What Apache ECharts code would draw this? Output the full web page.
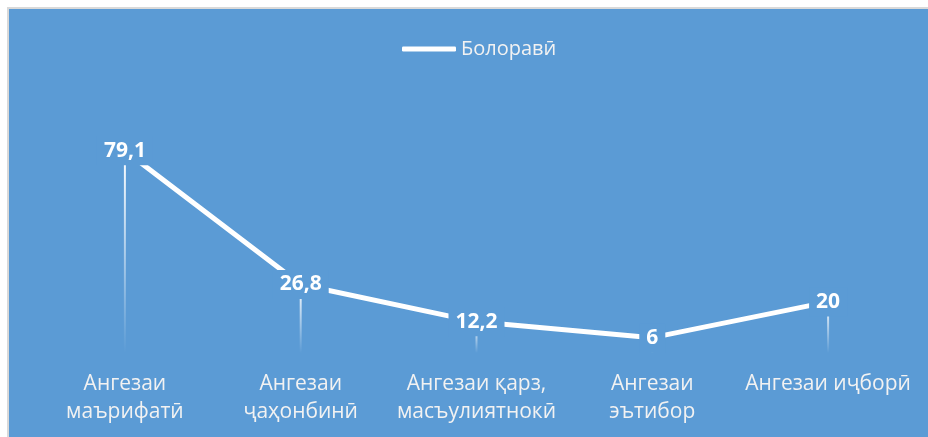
<!DOCTYPE html>
<html>
<head>
<meta charset="utf-8">
<script src="https://cdn.jsdelivr.net/npm/echarts@6/dist/echarts.min.js"></script>
<style>
html,body{margin:0;padding:0;background:#fff;width:928px;height:437px;overflow:hidden;}
#wrap{position:absolute;left:7px;top:7px;width:921px;height:430px;border-top:2px solid #d9d9d9;border-left:2px solid #d9d9d9;}
#chart{width:921px;height:430px;}
</style>
</head>
<body>
<div id="wrap"><div id="chart"></div></div>
<script>
const categories = ['Ангезаи\nмаърифатӣ', 'Ангезаи\nҷаҳонбинӣ', 'Ангезаи қарз,\nмасъулиятнокӣ', 'Ангезаи\nэътибор', 'Ангезаи иҷборӣ'];
const seriesName = 'Болоравӣ';
const values = [79.1, 26.8, 12.2, 6, 20];

const BG = '#5B9BD5';
const chart = echarts.init(document.getElementById('chart'));
chart.setOption({
  backgroundColor: BG,
  animation: false,
  legend: {
    data: [{ name: seriesName, icon: 'roundRect' }],
    left: 388, top: 25,
    itemWidth: 54, itemHeight: 5,
    textStyle: { color: '#F2F2F2', fontSize: 20, fontFamily: 'Open Sans' }
  },
  grid: { left: 28, right: 14, top: 114, bottom: 86 },
  xAxis: {
    type: 'category',
    data: categories,
    boundaryGap: true,
    axisLine: { show: false },
    axisTick: { show: false },
    axisLabel: {
      color: '#F2F2F2', fontSize: 21, fontFamily: 'Open Sans', lineHeight: 28, margin: 17, interval: 0
    }
  },
  yAxis: { type: 'value', min: 0, max: 90, show: false, splitLine: { show: false } },
  series: [
    {
      name: 'drop', type: 'bar', data: values, barWidth: 2, z: 1,
      itemStyle: {
        color: new echarts.graphic.LinearGradient(0, 0, 0, 1, [
          { offset: 0, color: 'rgba(255,255,255,1)' },
          { offset: 1, color: 'rgba(255,255,255,0)' }
        ])
      },
      emphasis: { disabled: true }, silent: true
    },
    {
      name: seriesName, type: 'line', data: values, z: 3,
      symbol: 'circle', symbolSize: 1,
      itemStyle: { color: '#FFFFFF' },
      lineStyle: { color: '#FFFFFF', width: 5 },
      label: {
        show: true, position: 'inside',
        formatter: p => String(p.value).replace('.', ','),
        color: '#FFFFFF', fontWeight: 'bold', fontSize: 21, fontFamily: 'Open Sans',
        backgroundColor: BG, padding: [4, 7]
      }
    }
  ]
});
</script>
</body>
</html>
